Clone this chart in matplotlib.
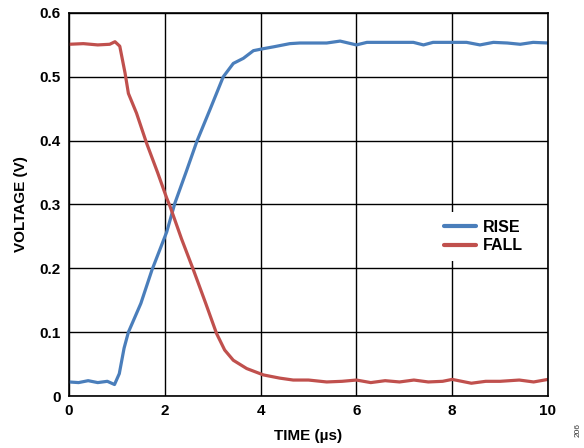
import matplotlib
matplotlib.use("Agg")
import matplotlib.pyplot as plt
import numpy as np

rise_t = [0.0, 0.2, 0.4, 0.6, 0.8, 0.95, 1.05, 1.15, 1.24, 1.5, 1.73, 2.04, 2.21, 2.45, 2.67, 2.95, 3.22, 3.43, 3.64, 3.85, 4.05, 4.27, 4.61, 4.82, 5.1, 5.38, 5.66, 6.0, 6.22, 6.5, 6.9, 7.19, 7.4, 7.6, 8.03, 8.3, 8.58, 8.86, 9.15, 9.42, 9.69, 10.0]
rise_v = [0.022, 0.021, 0.024, 0.021, 0.023, 0.018, 0.035, 0.075, 0.100, 0.145, 0.197, 0.257, 0.302, 0.352, 0.399, 0.450, 0.500, 0.521, 0.529, 0.541, 0.544, 0.547, 0.552, 0.553, 0.553, 0.553, 0.556, 0.550, 0.554, 0.554, 0.554, 0.554, 0.550, 0.554, 0.554, 0.554, 0.550, 0.554, 0.553, 0.551, 0.554, 0.553]

fall_t = [0.0, 0.3, 0.6, 0.85, 0.96, 1.06, 1.17, 1.24, 1.41, 1.62, 1.85, 2.04, 2.11, 2.35, 2.6, 2.85, 3.08, 3.25, 3.43, 3.71, 4.06, 4.4, 4.68, 5.0, 5.38, 5.7, 6.0, 6.3, 6.6, 6.9, 7.2, 7.5, 7.8, 8.0, 8.4, 8.7, 9.0, 9.4, 9.7, 10.0]
fall_v = [0.551, 0.552, 0.550, 0.551, 0.555, 0.548, 0.506, 0.474, 0.443, 0.396, 0.350, 0.310, 0.297, 0.246, 0.197, 0.146, 0.098, 0.072, 0.056, 0.043, 0.033, 0.028, 0.025, 0.025, 0.022, 0.023, 0.025, 0.021, 0.024, 0.022, 0.025, 0.022, 0.023, 0.026, 0.020, 0.023, 0.023, 0.025, 0.022, 0.026]

x_ticks = [0, 2, 4, 6, 8, 10]
y_ticks = [0, 0.1, 0.2, 0.3, 0.4, 0.5, 0.6]
y_labels = ["0", "0.1", "0.2", "0.3", "0.4", "0.5", "0.6"]

plt.rcParams['font.family'] = ['Liberation Sans', 'DejaVu Sans']

fig = plt.figure(figsize=(5.84, 4.48), dpi=100)
ax = fig.add_axes([69/584, 1-396/448, (548-69)/584, (396-13)/448])

ax.plot(rise_t, rise_v, color='#4a7ebb', lw=2.3, label='RISE', solid_capstyle='round', solid_joinstyle='round')
ax.plot(fall_t, fall_v, color='#c0504d', lw=2.3, label='FALL', solid_capstyle='round', solid_joinstyle='round')

ax.set_xlim(0, 10)
ax.set_ylim(0, 0.6)
ax.set_xticks(x_ticks)
ax.set_xticklabels([str(t) for t in x_ticks])
ax.set_yticks(y_ticks)
ax.set_yticklabels(y_labels)
ax.tick_params(length=0, labelsize=11, pad=6)
for lab in ax.get_xticklabels() + ax.get_yticklabels():
    lab.set_fontweight('bold')
ax.grid(True, color='black', lw=1.0)
ax.set_axisbelow(True)
for s in ax.spines.values():
    s.set_linewidth(1.2)
    s.set_color('black')

ax.set_xlabel('TIME (µs)', fontsize=11, fontweight='bold', labelpad=8)
ax.set_ylabel('VOLTAGE (V)', fontsize=11, fontweight='bold', labelpad=8)

leg = ax.legend(loc='center left', bbox_to_anchor=(0.75, 0.416), frameon=True,
                facecolor='white', edgecolor='none', fancybox=False, framealpha=1,
                prop={'size': 11.5, 'weight': 'bold'}, handlelength=2.0, handletextpad=0.4,
                borderpad=0.5, labelspacing=0.2)
for l in leg.get_lines():
    l.set_linewidth(3)

fig.text(578/584, 1-430/448, '206', rotation=90, fontsize=6, ha='center', va='center', color='#333333')

fig.savefig('out.png', dpi=100)
